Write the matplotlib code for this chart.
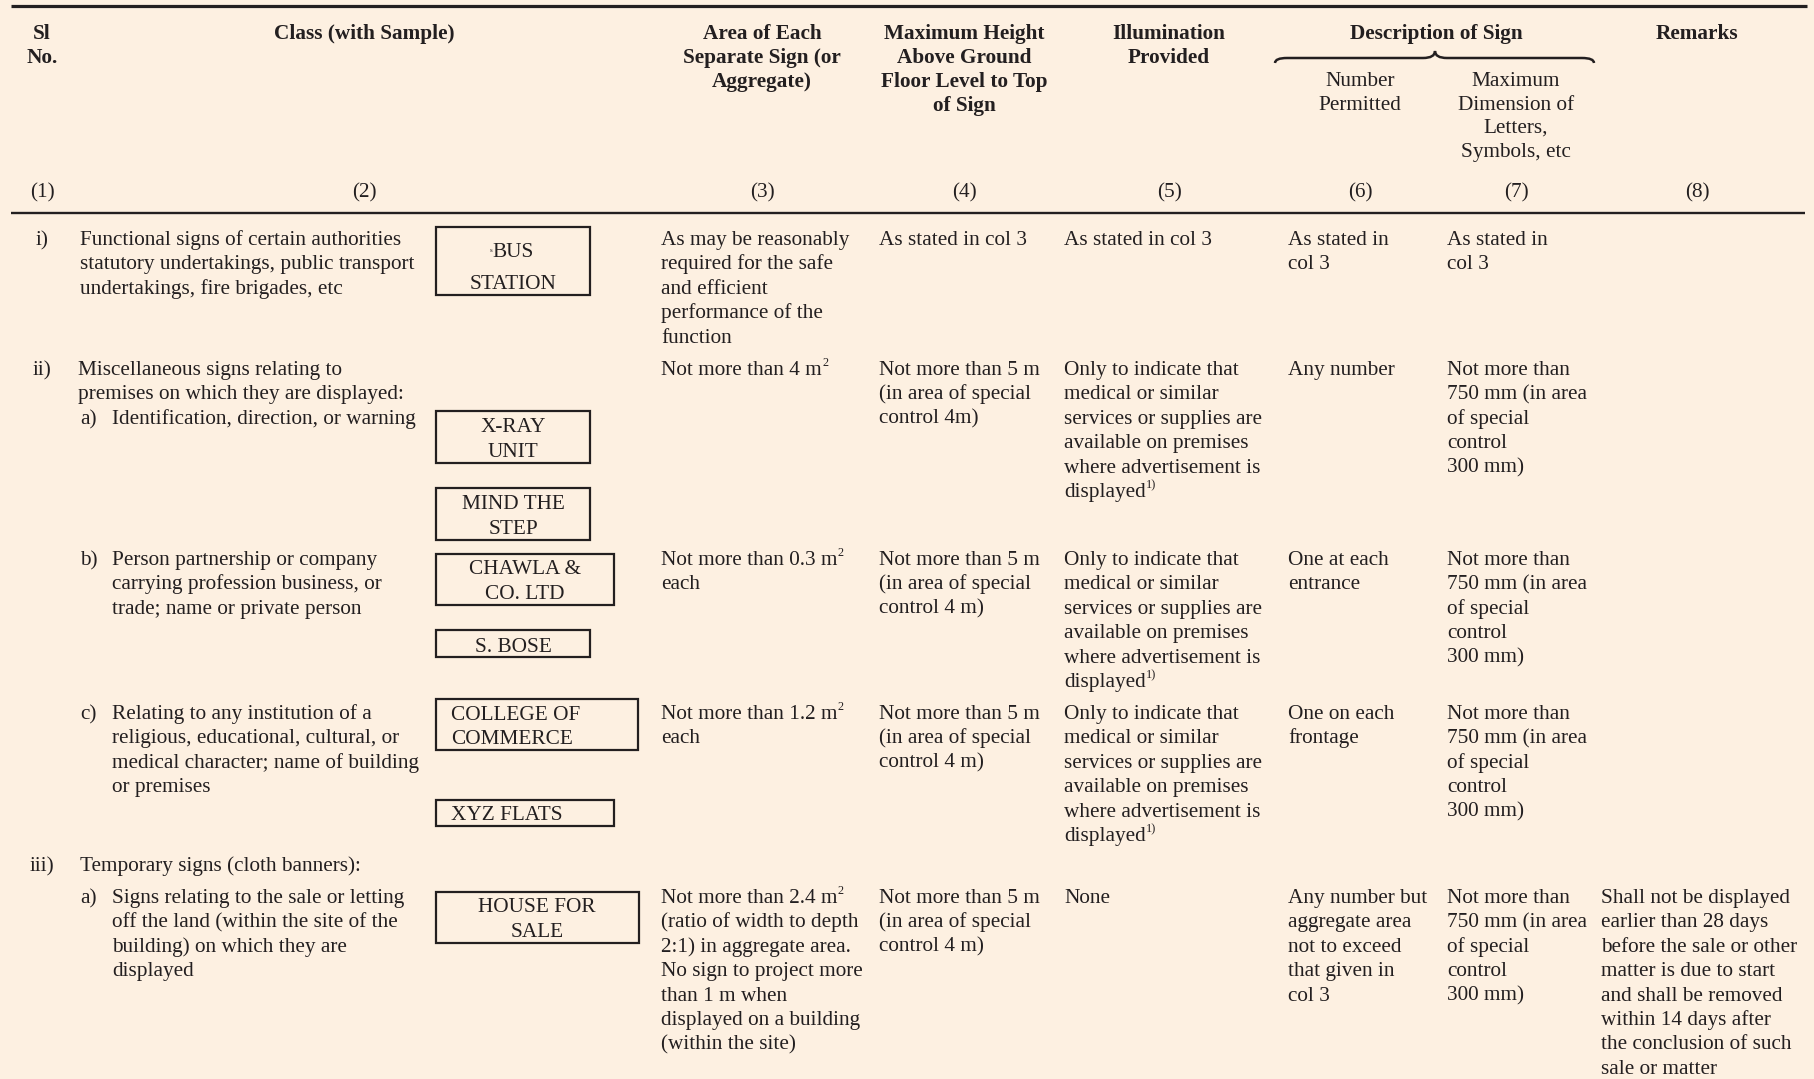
import matplotlib
matplotlib.use("Agg")
import matplotlib.pyplot as plt
from matplotlib.patches import Rectangle, PathPatch
from matplotlib.path import Path

plt.rcParams['font.family'] = ['Liberation Serif', 'DejaVu Serif']

# ---- table content ----
headers = ["Sl\nNo.", "Class (with Sample)", "Area of Each\nSeparate Sign (or\nAggregate)",
           "Maximum Height\nAbove Ground\nFloor Level to Top\nof Sign",
           "Illumination\nProvided", "Description of Sign", "Remarks"]
sub_headers = ["Number\nPermitted", "Maximum\nDimension of\nLetters,\nSymbols, etc"]
col_numbers = ["(1)", "(2)", "(3)", "(4)", "(5)", "(6)", "(7)", "(8)"]

serials = ["i)", "ii)", "iii)"]
class_main = ["Functional signs of certain authorities\nstatutory undertakings, public transport\nundertakings, fire brigades, etc",
              "Miscellaneous signs relating to\npremises on which they are displayed:",
              "Temporary signs (cloth banners):"]
sub_labels = ["a)", "b)", "c)", "a)"]
class_sub = ["Identification, direction, or warning",
             "Person partnership or company\ncarrying profession business, or\ntrade; name or private person",
             "Relating to any institution of a\nreligious, educational, cultural, or\nmedical character; name of building\nor premises",
             "Signs relating to the sale or letting\noff the land (within the site of the\nbuilding) on which they are\ndisplayed"]
signs = ["BUS\nSTATION", "X-RAY\nUNIT", "MIND THE\nSTEP", "CHAWLA &\nCO. LTD", "S. BOSE",
         "COLLEGE OF\nCOMMERCE", "XYZ FLATS", "HOUSE FOR\nSALE"]

# "^" marks a superscript tail on a line
illum_med = "Only to indicate that\nmedical or similar\nservices or supplies are\navailable on premises\nwhere advertisement is\ndisplayed^1)"
dim_750 = "Not more than\n750 mm (in area\nof special\ncontrol\n300 mm)"
area_text = ["As may be reasonably\nrequired for the safe\nand efficient\nperformance of the\nfunction",
             "Not more than 4 m^2",
             "Not more than 0.3 m^2\neach",
             "Not more than 1.2 m^2\neach",
             "Not more than 2.4 m^2\n(ratio of width to depth\n2:1) in aggregate area.\nNo sign to project more\nthan 1 m when\ndisplayed on a building\n(within the site)"]
height_text = ["As stated in col 3",
               "Not more than 5 m\n(in area of special\ncontrol 4m)",
               "Not more than 5 m\n(in area of special\ncontrol 4 m)",
               "Not more than 5 m\n(in area of special\ncontrol 4 m)",
               "Not more than 5 m\n(in area of special\ncontrol 4 m)"]
illum_text = ["As stated in col 3", illum_med, illum_med, illum_med, "None"]
number_text = ["As stated in\ncol 3", "Any number", "One at each\nentrance", "One on each\nfrontage",
               "Any number but\naggregate area\nnot to exceed\nthat given in\ncol 3"]
dimension_text = ["As stated in\ncol 3", dim_750, dim_750, dim_750, dim_750]
remarks_text = ["", "", "", "",
                "Shall not be displayed\nearlier than 28 days\nbefore the sale or other\nmatter is due to start\nand shall be removed\nwithin 14 days after\nthe conclusion of such\nsale or matter"]

# ---- layout (pixel coordinates) ----
BG = '#fdf0e1'
INK = '#231f20'
FS = 15.3
LH = 24.4

header_x = [42, 364, 762, 964, 1169, 1436, 1697]
sub_header_x = [1360, 1516]
col_num_x = [42, 364, 762, 964, 1169, 1360, 1516, 1697]
serial_y = [245, 375, 871]
sub_y = [424, 565, 719, 903]
row_y = [245, 375, 565, 719, 903]
col_x = [661, 879, 1064, 1288, 1447, 1601]
# box: x0, x1, y0, y1, text anchor x, first baseline, align, line step
sign_boxes = [(436, 590, 227, 295, 513, 257, 'center', 32),
              (436, 590, 411, 463, 513, 432, 'center', 25),
              (436, 590, 488, 540, 513, 509, 'center', 25),
              (436, 614, 554, 605, 525, 574, 'center', 25),
              (436, 590, 630, 657, 513, 652, 'center', 25),
              (436, 638, 699, 750, 451, 720, 'left', 24.5),
              (436, 614, 800, 826, 451, 820, 'left', 25),
              (436, 639, 892, 943, 537, 912, 'center', 25)]

fig = plt.figure(figsize=(18.14, 10.79), dpi=100, facecolor=BG)
ax = fig.add_axes([0, 0, 1, 1])
ax.set_xlim(0, 1814)
ax.set_ylim(1079, 0)
ax.axis('off')
ax.set_facecolor(BG)


def put(x, y0, text, ha='left', weight='normal', step=LH, size=FS):
    for i, line in enumerate(text.split('\n')):
        sup = None
        if '^' in line:
            line, sup = line.split('^')
        t = ax.text(x, y0 + i * step, line, ha=ha, va='baseline', fontsize=size,
                    fontweight=weight, color=INK)
        if sup:
            ax.annotate(sup, xy=(1, 1), xycoords=t, xytext=(0.3, 3),
                        textcoords='offset points', ha='left', va='top',
                        fontsize=size * 0.58, color=INK)


# rules
ax.plot([11, 1807], [5.5, 5.5], color=INK, lw=2.3, solid_capstyle='butt')
ax.plot([11, 1805], [213, 213], color=INK, lw=1.7, solid_capstyle='butt')

# headers
for x, h in zip(header_x, headers):
    put(x, 39, h, ha='center', weight='bold', step=24)
for x, h in zip(sub_header_x, sub_headers):
    put(x, 86, h, ha='center', step=23.5)
for x, c in zip(col_num_x, col_numbers):
    put(x, 197, c, ha='center')

# brace over columns 6-7
x0, x1, xm = 1275, 1594, 1435
yl, ye, yt = 58, 63, 51
verts = [(x0, ye), (x0, yl), (x0 + 12, yl), (xm - 12, yl), (xm, yl), (xm, yt),
         (xm, yl), (xm + 12, yl), (x1 - 12, yl), (x1, yl), (x1, ye)]
codes = [Path.MOVETO, Path.CURVE3, Path.CURVE3, Path.LINETO, Path.CURVE3, Path.CURVE3,
         Path.CURVE3, Path.CURVE3, Path.LINETO, Path.CURVE3, Path.CURVE3]
ax.add_patch(PathPatch(Path(verts, codes), fill=False, edgecolor=INK, lw=1.8))

# column 1-2
for y, s in zip(serial_y, serials):
    put(42, y, s, ha='center')
put(80, serial_y[0], class_main[0])
put(78, serial_y[1], class_main[1])
put(80, serial_y[2], class_main[2])
for y, lab, txt in zip(sub_y, sub_labels, class_sub):
    put(80, y, lab)
    put(112, y, txt)

# sample signs
for (bx0, bx1, by0, by1, tx, ty, al, st), s in zip(sign_boxes, signs):
    ax.add_patch(Rectangle((bx0, by0), bx1 - bx0, by1 - by0, fill=False,
                           edgecolor=INK, lw=1.6))
    put(tx, ty, s, ha=al, step=st)
ax.text(491, 252, "s", fontsize=5, color=INK, ha='center', va='baseline')

# columns 3-8
columns = [area_text, height_text, illum_text, number_text, dimension_text, remarks_text]
for x, col in zip(col_x, columns):
    for y, txt in zip(row_y, col):
        if txt:
            put(x, y, txt)

fig.savefig("out.png", dpi=100, facecolor=BG)
